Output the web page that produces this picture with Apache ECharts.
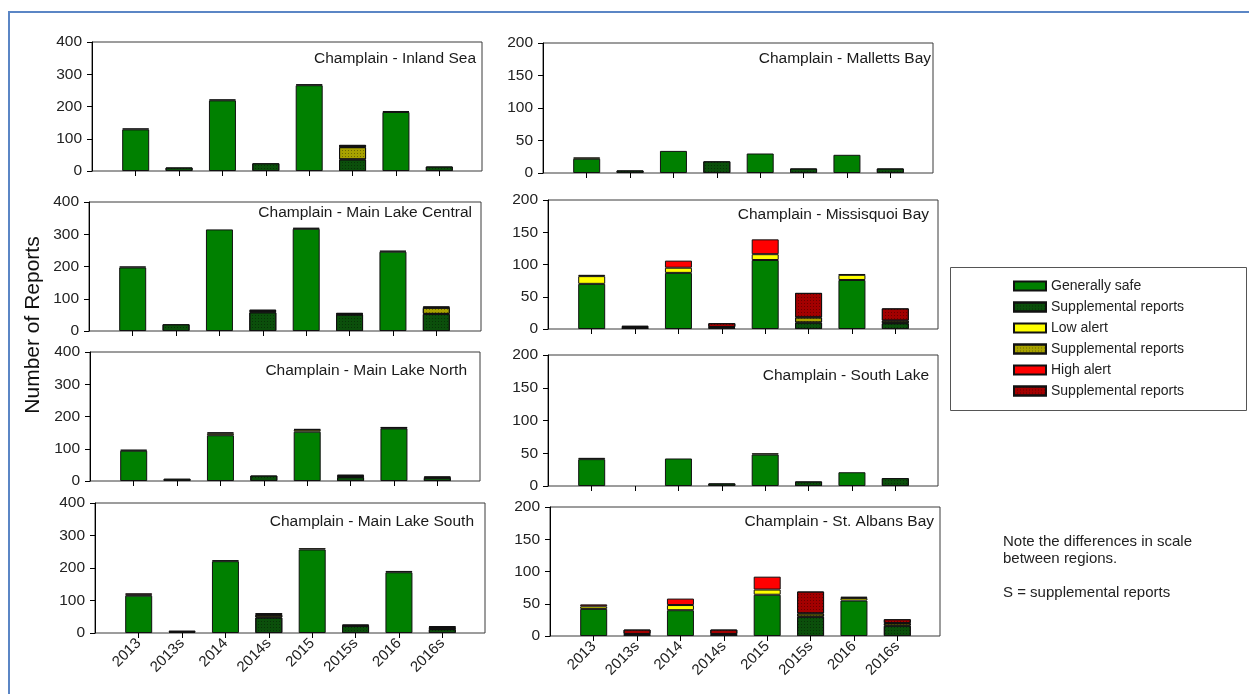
<!DOCTYPE html>
<html><head><meta charset="utf-8">
<script src="https://cdn.jsdelivr.net/npm/echarts/dist/echarts.min.js"></script>
<style>html,body{margin:0;padding:0;background:#fff}#c{width:1249px;height:694px}</style>
</head><body><div id="c"></div>
<script>
const categories = ['2013','2013s','2014','2014s','2015','2015s','2016','2016s'];
const seriesNames = ['Generally safe','Supplemental reports','Low alert','Supplemental reports\u200b','High alert','Supplemental reports\u200b\u200b'];

// rows: safe, safe supplemental, low, low supplemental, high, high supplemental
const inlandSea = [
  [129, 0, 219, 0, 266, 0, 183, 0],
  [0, 11, 0, 24, 0, 36, 0, 14],
  [3, 0, 3, 0, 3, 0, 3, 0],
  [0, 0, 0, 0, 0, 38, 0, 0],
  [0, 0, 0, 0, 0, 0, 0, 0],
  [0, 0, 0, 0, 0, 7, 0, 0]
];
const mainLakeCentral = [
  [197, 0, 315, 0, 317, 0, 246, 0],
  [0, 21, 0, 58, 0, 51, 0, 53],
  [3, 0, 0, 0, 3, 0, 3, 0],
  [0, 0, 0, 4, 0, 2, 0, 19],
  [0, 0, 0, 0, 0, 0, 0, 0],
  [0, 0, 0, 4, 0, 3, 0, 4]
];
const mainLakeNorth = [
  [94, 0, 142, 0, 153, 0, 163, 0],
  [0, 7, 0, 17, 0, 12, 0, 10],
  [3, 0, 6, 0, 6, 0, 2, 0],
  [0, 0, 0, 0, 0, 4, 0, 0],
  [0, 0, 3, 0, 2, 0, 2, 0],
  [0, 0, 0, 0, 0, 3, 0, 4]
];
const mainLakeSouth = [
  [115, 0, 221, 0, 257, 0, 187, 0],
  [0, 3, 0, 48, 0, 22, 0, 12],
  [3, 0, 3, 0, 4, 0, 4, 0],
  [0, 0, 0, 8, 0, 0, 0, 6],
  [4, 0, 0, 0, 0, 0, 0, 0],
  [0, 4, 0, 5, 0, 4, 0, 3]
];
const mallettsBay = [
  [22, 0, 34, 0, 30, 0, 28, 0],
  [0, 4, 0, 18, 0, 7, 0, 7],
  [2, 0, 0, 0, 0, 0, 0, 0],
  [0, 0, 0, 0, 0, 0, 0, 0],
  [0, 0, 0, 0, 0, 0, 0, 0],
  [0, 0, 0, 0, 0, 0, 0, 0]
];
const missisquoiBay = [
  [70, 0, 87, 0, 107, 0, 76, 0],
  [0, 0, 0, 2, 0, 10, 0, 9],
  [12, 0, 8, 0, 9, 0, 8, 0],
  [0, 3, 0, 1, 0, 8, 0, 4],
  [2, 0, 11, 0, 23, 0, 1, 0],
  [0, 2, 0, 6, 0, 38, 0, 19]
];
const southLake = [
  [41, 0, 42, 0, 48, 0, 21, 0],
  [0, 0, 0, 4, 0, 7, 0, 12],
  [2, 0, 0, 0, 2, 0, 0, 0],
  [0, 0, 0, 0, 0, 0, 0, 0],
  [0, 0, 0, 0, 0, 0, 0, 0],
  [0, 0, 0, 0, 0, 0, 0, 0]
];
const stAlbansBay = [
  [42, 0, 40, 0, 64, 0, 55, 0],
  [0, 0, 0, 3, 0, 30, 0, 16],
  [4, 0, 8, 0, 8, 0, 4, 0],
  [0, 3, 0, 0, 0, 5, 0, 4],
  [3, 0, 10, 0, 20, 0, 2, 0],
  [0, 7, 0, 7, 0, 34, 0, 6]
];

const FONT = '"Liberation Sans", Arial, sans-serif';
const colors = ['#008000', '#0b4f0b', '#ffff00', '#a8a200', '#ff0000', '#a30000'];
const supp = [false, true, false, true, false, true];
const decal = { symbol: 'rect', symbolSize: 1, dashArrayX: [1, 2], dashArrayY: [1, 2], color: 'rgba(0,0,0,0.35)' };

const panels = [
  { title: 'Champlain - Inland Sea', data: inlandSea, max: 400, interval: 100, frame: [92, 42, 390, 129], t: [476, 59] },
  { title: 'Champlain - Main Lake Central', data: mainLakeCentral, max: 400, interval: 100, frame: [89, 202, 392, 129], t: [472, 213] },
  { title: 'Champlain - Main Lake North', data: mainLakeNorth, max: 400, interval: 100, frame: [90, 352, 390, 129], t: [467, 371] },
  { title: 'Champlain - Main Lake South', data: mainLakeSouth, max: 400, interval: 100, frame: [95, 503, 390, 130], t: [474, 522], bottom: true },
  { title: 'Champlain - Malletts Bay', data: mallettsBay, max: 200, interval: 50, frame: [543, 43, 390, 130], t: [931, 59] },
  { title: 'Champlain - Missisquoi Bay', data: missisquoiBay, max: 200, interval: 50, frame: [548, 200, 390, 129], t: [929, 215] },
  { title: 'Champlain - South Lake', data: southLake, max: 200, interval: 50, frame: [548, 355, 390, 131], t: [929, 376] },
  { title: 'Champlain - St. Albans Bay', data: stAlbansBay, max: 200, interval: 50, frame: [550, 507, 390, 129], t: [934, 522], bottom: true }
];

const grid = [], xAxis = [], yAxis = [], series = [], graphic = [];
panels.forEach((p, i) => {
  const [l, t, w, h] = p.frame;
  const gF = 2 * i, gI = 2 * i + 1;
  grid.push({ left: l, top: t, width: w, height: h, show: true, borderColor: '#3a3a3a', borderWidth: 1, backgroundColor: 'transparent' });
  grid.push({ left: l + 22, top: t, width: 347, height: h });
  xAxis.push({ gridIndex: gF, type: 'value', min: 0, max: 1, show: false });
  yAxis.push({
    gridIndex: gF, type: 'value', min: 0, max: p.max, interval: p.interval,
    axisLine: { show: true, lineStyle: { color: '#000', width: 1 } },
    axisTick: { show: true, length: 5, lineStyle: { color: '#000' } },
    axisLabel: { fontSize: 15.5, color: '#222', fontFamily: FONT, margin: 10 },
    splitLine: { show: false }
  });
  xAxis.push({
    gridIndex: gI, type: 'category', data: categories,
    axisLine: { show: false },
    axisTick: { show: true, alignWithLabel: true, length: 5, lineStyle: { color: '#000' } },
    axisLabel: { show: !!p.bottom, rotate: 45, fontSize: 15, color: '#222', fontFamily: FONT, margin: 8 },
    splitLine: { show: false }
  });
  yAxis.push({ gridIndex: gI, type: 'value', min: 0, max: p.max, show: false, splitLine: { show: false } });
  p.data.forEach((vals, s) => {
    const itemStyle = { color: colors[s], borderColor: '#111', borderWidth: 1 };
    if (supp[s]) itemStyle.decal = decal;
    series.push({
      type: 'bar', name: seriesNames[s], xAxisIndex: gI, yAxisIndex: gI, stack: 'p' + i,
      barWidth: 27, data: vals.map(v => v === 0 ? '-' : v), itemStyle
    });
  });
  graphic.push({
    type: 'text', x: p.t[0], y: p.t[1], z: 100,
    style: { text: p.title, fontSize: 15.5, fontFamily: FONT, fill: '#1a1a1a', textAlign: 'right', textVerticalAlign: 'middle' }
  });
});

graphic.push(
  { type: 'rect', shape: { x: 9, y: 12, width: 1300, height: 700 }, style: { fill: 'none', stroke: '#5b86c5', lineWidth: 2 } },
  { type: 'rect', shape: { x: 950.5, y: 267.5, width: 296, height: 143 }, style: { fill: 'none', stroke: '#555', lineWidth: 1 } },
  { type: 'text', x: 33, y: 325, rotation: Math.PI / 2,
    style: { text: 'Number of Reports', fontSize: 21, fontFamily: FONT, fill: '#111', textAlign: 'center', textVerticalAlign: 'middle' } },
  { type: 'text', x: 1003, y: 533,
    style: { text: 'Note the differences in scale\nbetween regions.\n\nS = supplemental reports', fontSize: 15, lineHeight: 17, fontFamily: FONT, fill: '#222' } }
);

const chart = echarts.init(document.getElementById('c'), null, { renderer: 'canvas' });
chart.setOption({
  animation: false,
  backgroundColor: '#fff',
  grid, xAxis, yAxis, series, graphic,
  legend: {
    data: seriesNames, orient: 'vertical', left: 1013, top: 279, padding: 0,
    itemWidth: 32, itemHeight: 9, itemGap: 7, icon: 'rect', selectedMode: false,
    textStyle: { fontSize: 14, lineHeight: 14, fontFamily: FONT, color: '#222' }
  }
});
</script></body></html>
